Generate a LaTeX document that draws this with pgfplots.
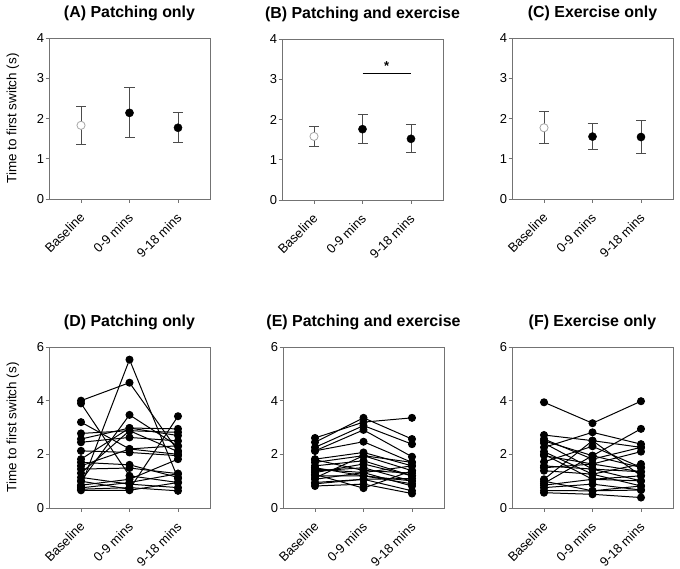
\documentclass[border=0pt]{standalone}
\usepackage{pgfplots}
\pgfplotsset{compat=1.18}
\usepackage{fontspec}
\setmainfont{Liberation Sans}
\definecolor{axgray}{gray}{0.45}
\definecolor{ebgray}{gray}{0.3}
\pgfplotsset{
  panel/.style={
    scale only axis, width=161bp, height=161bp,
    anchor=north west,
    xmin=-0.66, xmax=2.66, ymin=0,
    xtick={0,1,2}, xticklabels={Baseline,0-9 mins,9-18 mins},
    axis line style={axgray, line width=0.6pt},
    tick style={axgray, line width=0.6pt},
    tick align=outside, tick pos=left,
    major tick length=3.5bp,
    /pgf/number format/assume math mode=true,
    yticklabel style={font=\fontsize{13}{15}\selectfont, xshift=2bp},
    xticklabel style={font=\fontsize{13}{15}\selectfont, rotate=45, anchor=east, xshift=-4.8bp, yshift=-9.9bp},
    title style={font=\fontsize{16}{19}\bfseries, yshift=8bp},
    ylabel style={font=\fontsize{13.5}{16}\selectfont, at={(axis description cs:-0.224,0.5)}, anchor=center, rotate=0},
    clip=false,
  },
  toprow/.style={panel, ymax=4, ytick={0,1,2,3,4}},
  botrow/.style={panel, ymax=6, ytick={0,2,4,6}},
  ebars/.style={error bars/.cd, y dir=both, y explicit,
    error bar style={ebgray, line width=0.8pt},
    error mark options={rotate=90, mark size=5bp, ebgray, line width=0.8pt}},
  mean/.style={only marks, mark=*, mark size=4.1pt, mark options={fill=black, draw=black}, ebars},
  basemean/.style={only marks, mark=*, mark size=4.1pt, mark options={fill=white, draw=gray!70, line width=0.8pt}, ebars},
  subj/.style={black, line width=1pt, mark=*, mark size=3.5pt, mark options={fill=black}},
}
\begin{document}
\begin{tikzpicture}
\useasboundingbox (0bp,0bp) rectangle (680bp,-569bp);
% ---------------- (A)
\begin{axis}[toprow, at={(49bp,-38bp)}, title={(A) Patching only}, ylabel={Time to first switch (s)}]
\addplot[basemean] coordinates {(0,1.83) += (0,0.47) -= (0,0.48)};
\addplot[mean] coordinates {(1,2.14) += (0,0.63) -= (0,0.62) (2,1.77) += (0,0.37) -= (0,0.37)};
\end{axis}
% ---------------- (B)
\begin{axis}[toprow, at={(282bp,-39bp)}, title={(B) Patching and exercise}]
\addplot[basemean] coordinates {(0,1.58) += (0,0.26) -= (0,0.24)};
\addplot[mean] coordinates {(1,1.76) += (0,0.37) -= (0,0.36) (2,1.52) += (0,0.35) -= (0,0.33)};
\addplot[black, line width=1pt] coordinates {(1,3.15) (2,3.15)};
\node[font=\fontsize{13}{14}\selectfont\bfseries] at (axis cs:1.5,3.33) {*};
\end{axis}
% ---------------- (C)
\begin{axis}[toprow, at={(512bp,-38bp)}, title={(C) Exercise only}]
\addplot[basemean] coordinates {(0,1.77) += (0,0.40) -= (0,0.39)};
\addplot[mean] coordinates {(1,1.55) += (0,0.34) -= (0,0.33) (2,1.54) += (0,0.41) -= (0,0.40)};
\end{axis}
% ---------------- (D)
\begin{axis}[botrow, at={(49bp,-347bp)}, title={(D) Patching only}, ylabel={Time to first switch (s)}]
\addplot[subj] coordinates {(0,4.00) (1,4.67) (2,2.13)};
\addplot[subj] coordinates {(0,3.90) (1,1.20) (2,0.95)};
\addplot[subj] coordinates {(0,3.20) (1,2.20) (2,2.00)};
\addplot[subj] coordinates {(0,2.78) (1,2.88) (2,2.82)};
\addplot[subj] coordinates {(0,2.57) (1,2.98) (2,2.95)};
\addplot[subj] coordinates {(0,2.45) (1,2.63) (2,2.50)};
\addplot[subj] coordinates {(0,2.13) (1,2.07) (2,1.95)};
\addplot[subj] coordinates {(0,1.82) (1,2.98) (2,2.70)};
\addplot[subj] coordinates {(0,1.70) (1,1.61) (2,1.14)};
\addplot[subj] coordinates {(0,1.57) (1,2.20) (2,2.32)};
\addplot[subj] coordinates {(0,1.45) (1,1.49) (2,1.28)};
\addplot[subj] coordinates {(0,1.14) (1,0.89) (2,0.76)};
\addplot[subj] coordinates {(0,1.01) (1,3.47) (2,2.30)};
\addplot[subj] coordinates {(0,0.82) (1,5.53) (2,1.10)};
\addplot[subj] coordinates {(0,0.70) (1,0.76) (2,0.64)};
\addplot[subj] coordinates {(0,0.66) (1,0.66) (2,0.95)};
\addplot[subj] coordinates {(0,1.00) (1,0.70) (2,3.42)};
\addplot[subj] coordinates {(0,0.85) (1,1.07) (2,1.82)};
\addplot[subj] coordinates {(0,1.30) (1,2.88) (2,2.10)};
\addplot[subj] coordinates {(0,0.75) (1,0.95) (2,1.28)};
\end{axis}
% ---------------- (E)
\begin{axis}[botrow, at={(283bp,-347bp)}, title={(E) Patching and exercise}]
\addplot[subj] coordinates {(0,2.61) (1,3.20) (2,3.36)};
\addplot[subj] coordinates {(0,2.45) (1,3.36) (2,2.57)};
\addplot[subj] coordinates {(0,2.26) (1,3.07) (2,2.38)};
\addplot[subj] coordinates {(0,2.13) (1,2.91) (2,1.91)};
\addplot[subj] coordinates {(0,2.13) (1,2.47) (2,1.70)};
\addplot[subj] coordinates {(0,1.82) (1,2.07) (2,1.57)};
\addplot[subj] coordinates {(0,1.70) (1,1.95) (2,1.39)};
\addplot[subj] coordinates {(0,1.57) (1,1.76) (2,1.20)};
\addplot[subj] coordinates {(0,1.45) (1,1.32) (2,1.57)};
\addplot[subj] coordinates {(0,1.32) (1,1.64) (2,1.20)};
\addplot[subj] coordinates {(0,1.20) (1,1.20) (2,1.01)};
\addplot[subj] coordinates {(0,1.07) (1,1.32) (2,0.82)};
\addplot[subj] coordinates {(0,0.95) (1,1.07) (2,0.64)};
\addplot[subj] coordinates {(0,0.82) (1,0.89) (2,0.54)};
\addplot[subj] coordinates {(0,1.50) (1,1.20) (2,0.90)};
\addplot[subj] coordinates {(0,1.25) (1,0.74) (2,1.39)};
\addplot[subj] coordinates {(0,0.90) (1,1.07) (2,1.10)};
\addplot[subj] coordinates {(0,1.38) (1,1.50) (2,1.00)};
\addplot[subj] coordinates {(0,1.12) (1,1.95) (2,1.70)};
\addplot[subj] coordinates {(0,1.80) (1,1.40) (2,1.30)};
\end{axis}
% ---------------- (F)
\begin{axis}[botrow, at={(512bp,-347bp)}, title={(F) Exercise only}]
\addplot[subj] coordinates {(0,3.94) (1,3.16) (2,3.98)};
\addplot[subj] coordinates {(0,2.72) (1,2.51) (2,1.20)};
\addplot[subj] coordinates {(0,2.57) (1,1.82) (2,2.26)};
\addplot[subj] coordinates {(0,2.42) (1,1.45) (2,1.01)};
\addplot[subj] coordinates {(0,2.26) (1,2.82) (2,2.38)};
\addplot[subj] coordinates {(0,2.10) (1,1.26) (2,0.82)};
\addplot[subj] coordinates {(0,1.95) (1,1.64) (2,2.10)};
\addplot[subj] coordinates {(0,1.72) (1,2.30) (2,1.51)};
\addplot[subj] coordinates {(0,1.57) (1,1.45) (2,1.35)};
\addplot[subj] coordinates {(0,1.39) (1,1.26) (2,1.64)};
\addplot[subj] coordinates {(0,1.07) (1,2.51) (2,2.26)};
\addplot[subj] coordinates {(0,0.92) (1,1.95) (2,2.95)};
\addplot[subj] coordinates {(0,0.76) (1,0.89) (2,0.67)};
\addplot[subj] coordinates {(0,0.57) (1,0.51) (2,0.39)};
\addplot[subj] coordinates {(0,1.00) (1,0.64) (2,0.82)};
\addplot[subj] coordinates {(0,0.85) (1,1.07) (2,1.20)};
\addplot[subj] coordinates {(0,2.00) (1,1.07) (2,1.01)};
\addplot[subj] coordinates {(0,1.50) (1,1.64) (2,1.35)};
\addplot[subj] coordinates {(0,0.65) (1,0.64) (2,0.67)};
\addplot[subj] coordinates {(0,2.50) (1,1.95) (2,1.51)};
\end{axis}
\end{tikzpicture}
\end{document}
